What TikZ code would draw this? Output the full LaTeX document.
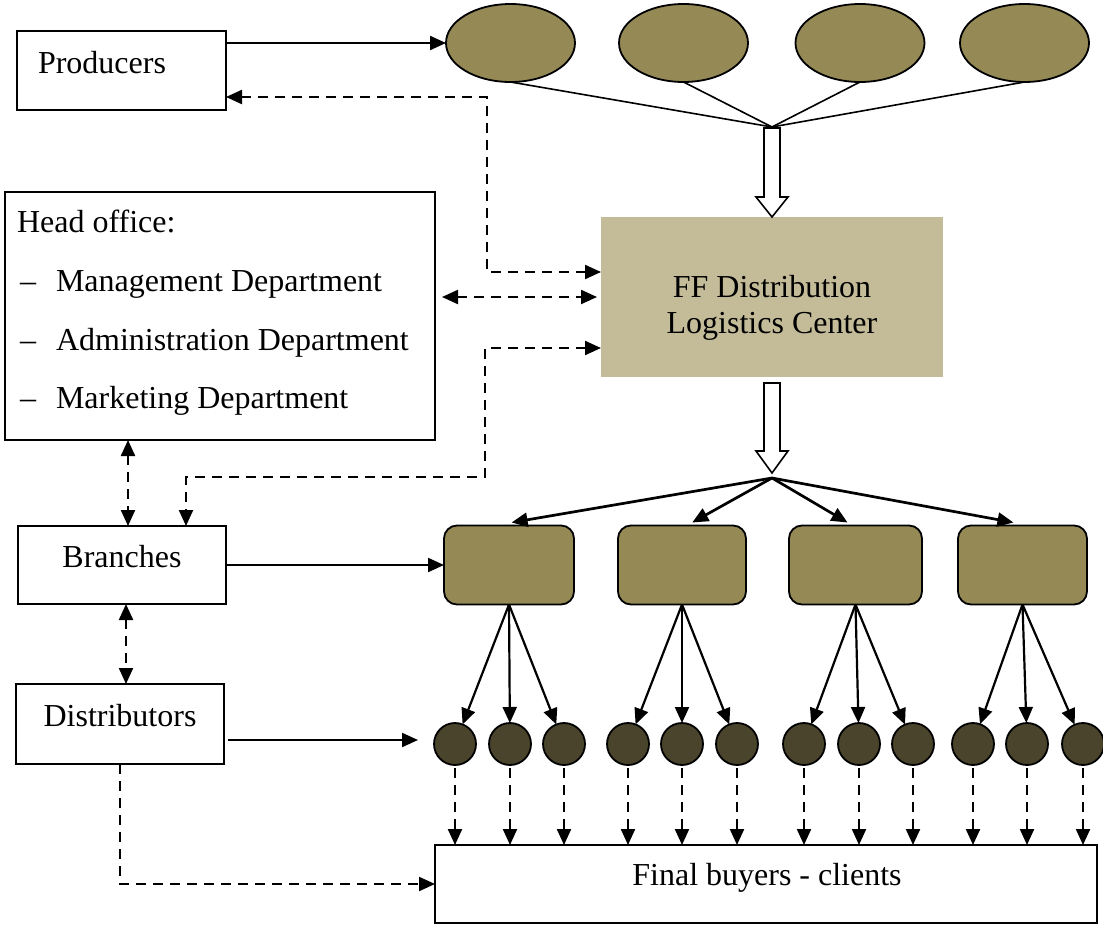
\documentclass[tikz,border=0pt]{standalone}
\usepackage{fontspec}
\setmainfont{Liberation Serif}
\usetikzlibrary{arrows.meta,shapes.geometric,calc}
\definecolor{unitfill}{HTML}{958A55}
\definecolor{pointfill}{HTML}{4A442C}
\definecolor{centerfill}{HTML}{C4BC98}
\begin{document}
\begin{tikzpicture}[x=1pt,y=-1pt,
  every node/.style={inner sep=0pt, outer sep=0pt},
  >={Triangle[length=16pt,width=14pt]},
  lbl/.style={font=\fontsize{32}{36}\selectfont},
  wbox/.style={draw, rectangle, line width=1.8pt},
  unit/.style={draw, line width=1.8pt, fill=unitfill},
  point/.style={draw, circle, line width=1.8pt, fill=pointfill, minimum size=42pt},
  conn/.style={line width=2.2pt, ->},
  thin/.style={line width=1.6pt},
  dconn/.style={line width=2.2pt, dash pattern=on 10pt off 7pt, ->},
  ddconn/.style={line width=2.2pt, dash pattern=on 10pt off 7pt, <->},
  hollow/.style={draw, line width=1.6pt, fill=white}
]
\useasboundingbox (0,0) rectangle (1103,926);

% left column boxes
\node[wbox, minimum width=209pt, minimum height=79pt] (prod) at (121.5,70.5) {};
\node[lbl, anchor=base west] (tprod) at (38,73) {Producers};

\node[wbox, minimum width=430pt, minimum height=248pt] (head) at (220,316) {};
\node[lbl, anchor=base west] (th0) at (17,232.5) {Head office:};
\node[lbl, anchor=base west] (th1d) at (20,291.5) {–};
\node[lbl, anchor=base west] (th1) at (56,291.5) {Management Department};
\node[lbl, anchor=base west] (th2d) at (20,350.5) {–};
\node[lbl, anchor=base west] (th2) at (56,350.5) {Administration Department};
\node[lbl, anchor=base west] (th3d) at (20,408.5) {–};
\node[lbl, anchor=base west] (th3) at (56,408.5) {Marketing Department};

\node[wbox, minimum width=208pt, minimum height=78pt] (br) at (122,565) {};
\node[lbl, anchor=base] (tbr) at (122,567) {Branches};

\node[wbox, minimum width=208pt, minimum height=80pt] (dist) at (120,724) {};
\node[lbl, anchor=base] (tdist) at (120,726) {Distributors};

\node[wbox, minimum width=662pt, minimum height=78pt] (fin) at (766,884) {};
\node[lbl, anchor=base] (tfin) at (767,885.5) {Final buyers - clients};

% producers' units
\node[unit, ellipse, minimum width=129pt, minimum height=78pt] (e1) at (510.5,43) {};
\node[unit, ellipse, minimum width=129pt, minimum height=78pt] (e2) at (683.5,43) {};
\node[unit, ellipse, minimum width=129pt, minimum height=78pt] (e3) at (860,43) {};
\node[unit, ellipse, minimum width=129pt, minimum height=78pt] (e4) at (1024.5,43) {};
\coordinate (hub1) at (772,127);
\foreach \i in {1,...,4} \draw[thin] (e\i.south) -- (hub1);

% logistics center
\node[fill=centerfill, minimum width=342pt, minimum height=160pt] (ff) at (772,297) {};
\node[lbl, align=center, anchor=base] (tff1) at (772,297.5) {FF Distribution};
\node[lbl, align=center, anchor=base] (tff2) at (772,333.5) {Logistics Center};

% hollow block arrows
\draw[hollow] (764,128) -- (764,197) -- (756,197) -- (772,217) -- (788,197) -- (780,197) -- (780,128) -- cycle;
\draw[hollow] (764,383) -- (764,451) -- (756,451) -- (772,473) -- (788,451) -- (780,451) -- (780,383) -- cycle;

% branch units
\node[unit, rounded corners=13pt, minimum width=130pt, minimum height=79pt] (r1) at (509,565) {};
\node[unit, rounded corners=13pt, minimum width=128pt, minimum height=79pt] (r2) at (682,565) {};
\node[unit, rounded corners=13pt, minimum width=133pt, minimum height=79pt] (r3) at (855.5,565) {};
\node[unit, rounded corners=13pt, minimum width=129pt, minimum height=79pt] (r4) at (1022.5,565) {};
\coordinate (hub2) at (772,478);
\draw[conn, line width=2.7pt] (hub2) -- ($(r1.north west)!0.52!(r1.north east)+(0,-3)$);
\draw[conn, line width=2.7pt] (hub2) -- ($(r2.north west)!0.58!(r2.north east)+(0,-3)$);
\draw[conn, line width=2.7pt] (hub2) -- ($(r3.north west)!0.44!(r3.north east)+(0,-3)$);
\draw[conn, line width=2.7pt] (hub2) -- ($(r4.north west)!0.43!(r4.north east)+(0,-3)$);

% distribution points
\foreach \n/\x in {1/455,2/510,3/564,4/628,5/682,6/737,7/804,8/859,9/913,10/973,11/1027,12/1083}
  \node[point] (c\n) at (\x,744) {};
\foreach \r/\a/\b/\c in {1/1/2/3,2/4/5/6,3/7/8/9,4/10/11/12} {
  \draw[conn] (r\r.south) -- (c\a);
  \draw[conn] (r\r.south) -- (c\b);
  \draw[conn] (r\r.south) -- (c\c);
}
\foreach \n in {1,...,12}
  \draw[dconn, shorten <=3pt] (c\n.south) -- (c\n.south |- fin.north);

% information flows
\coordinate (jp) at (487,97);
\draw[ddconn] (prod.east |- jp) -- (jp) |- ($(ff.north west)+(0,55)$);
\draw[ddconn, shorten <=7pt, shorten >=4pt] (head.east |- ff.west) -- (ff.west);
\coordinate (jb) at (485,477);
\draw[ddconn] ($(ff.north west)+(0,131)$) -| (jb) -| (br.north -| 186,0);
\draw[ddconn] (head.south -| 128,0) -- (br.north -| 128,0);
\draw[ddconn] (br.south -| 126,0) -- (dist.north -| 126,0);
\draw[dconn] (dist.south -| 120,0) |- (fin.west);

% material flows
\draw[conn] (prod.east |- e1.west) -- (e1.west);
\draw[conn] (br.east) -- (r1.west);
\coordinate (dtip) at (418,740);
\draw[conn, shorten <=4pt] (dist.east |- dtip) -- (dtip);
\end{tikzpicture}
\end{document}
